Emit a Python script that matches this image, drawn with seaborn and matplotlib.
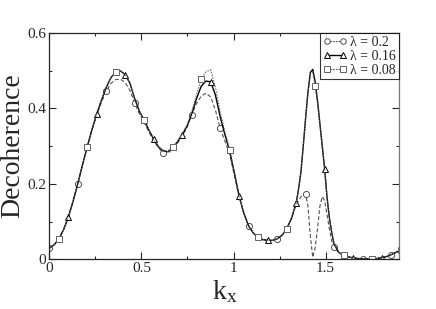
import numpy as np
import matplotlib
matplotlib.use("Agg")
import matplotlib.pyplot as plt
from matplotlib.lines import Line2D
import seaborn as sns

# estilo general
sns.set_style("ticks")
plt.rcParams["font.family"] = ["Liberation Serif", "DejaVu Serif"]
plt.rcParams["mathtext.fontset"] = "custom"
plt.rcParams["mathtext.rm"] = "Liberation Serif"

# separacion de la malla en k_x (los marcadores caen cada 6 puntos)
STEP = 0.025764

kx = [0.0, 0.0258, 0.0515, 0.0773, 0.1031, 0.1288, 0.1546, 0.1803, 0.2061, 0.2319,
      0.2576, 0.2834, 0.3092, 0.3349, 0.3607, 0.3865, 0.4122, 0.4380, 0.4638, 0.4895,
      0.5153, 0.5410, 0.5668, 0.5926, 0.6183, 0.6441, 0.6699, 0.6956, 0.7214, 0.7472,
      0.7729, 0.7987, 0.8244, 0.8502, 0.8760, 0.9017, 0.9275, 0.9533, 0.9790, 1.0048,
      1.0306, 1.0563, 1.0821, 1.1079, 1.1336, 1.1594, 1.1851, 1.2109, 1.2367, 1.2624,
      1.2882, 1.3140, 1.3397, 1.3526, 1.3655, 1.3784, 1.3913, 1.4042, 1.4170, 1.4299,
      1.4428, 1.4557, 1.4685, 1.4814, 1.4943, 1.5072, 1.5201, 1.5330, 1.5458, 1.5716,
      1.5974, 1.6231, 1.6489, 1.6747, 1.7004, 1.7262, 1.7520, 1.7777, 1.8035, 1.8292,
      1.8550, 1.8808, 1.9065]

deco_020 = [0.029, 0.038, 0.053, 0.078, 0.111, 0.153, 0.200, 0.250, 0.298, 0.343,
            0.382, 0.416, 0.445, 0.466, 0.476, 0.477, 0.468, 0.447, 0.413, 0.385,
            0.362, 0.337, 0.314, 0.295, 0.282, 0.281, 0.292, 0.307, 0.326, 0.350,
            0.383, 0.412, 0.432, 0.440, 0.430, 0.395, 0.347, 0.313, 0.278, 0.222,
            0.165, 0.121, 0.088, 0.069, 0.058, 0.052, 0.050, 0.050, 0.054, 0.063,
            0.080, 0.108, 0.145, 0.155, 0.165, 0.172, 0.173, 0.140, 0.060, 0.005,
            0.030, 0.080, 0.140, 0.166, 0.155, 0.120, 0.080, 0.048, 0.032, 0.017,
            0.010, 0.006, 0.004, 0.002, 0.001, 0.001, 0.001, 0.002, 0.004, 0.007,
            0.012, 0.018, 0.024]

deco_016 = [0.029, 0.038, 0.053, 0.078, 0.111, 0.153, 0.200, 0.250, 0.298, 0.344,
            0.385, 0.422, 0.455, 0.481, 0.496, 0.499, 0.489, 0.466, 0.425, 0.392,
            0.368, 0.342, 0.318, 0.298, 0.287, 0.285, 0.296, 0.311, 0.330, 0.352,
            0.385, 0.425, 0.458, 0.472, 0.470, 0.435, 0.378, 0.330, 0.287, 0.228,
            0.167, 0.121, 0.088, 0.069, 0.058, 0.052, 0.050, 0.050, 0.054, 0.063,
            0.080, 0.108, 0.148, 0.185, 0.230, 0.300, 0.375, 0.445, 0.495, 0.503,
            0.470, 0.420, 0.360, 0.300, 0.240, 0.165, 0.110, 0.070, 0.040, 0.018,
            0.010, 0.006, 0.004, 0.002, 0.001, 0.001, 0.001, 0.002, 0.004, 0.007,
            0.012, 0.018, 0.024]

deco_008 = [0.029, 0.038, 0.053, 0.078, 0.111, 0.153, 0.200, 0.250, 0.298, 0.344,
            0.385, 0.422, 0.455, 0.482, 0.497, 0.499, 0.489, 0.466, 0.425, 0.392,
            0.368, 0.342, 0.318, 0.298, 0.287, 0.285, 0.297, 0.312, 0.332, 0.355,
            0.390, 0.435, 0.477, 0.497, 0.502, 0.455, 0.390, 0.338, 0.290, 0.229,
            0.167, 0.121, 0.088, 0.069, 0.058, 0.052, 0.050, 0.050, 0.054, 0.063,
            0.081, 0.108, 0.148, 0.185, 0.230, 0.300, 0.375, 0.442, 0.490, 0.495,
            0.460, 0.415, 0.358, 0.300, 0.240, 0.165, 0.110, 0.070, 0.040, 0.018,
            0.010, 0.006, 0.004, 0.002, 0.001, 0.001, 0.001, 0.002, 0.004, 0.007,
            0.012, 0.018, 0.024]

series_labels = ["λ = 0.2", "λ = 0.16", "λ = 0.08"]
x_ticks = [0, 0.5, 1, 1.5]
x_ticklabels = ["0", "0.5", "1", "1.5"]
y_ticks = [0, 0.2, 0.4, 0.6]
y_ticklabels = ["0", "0.2", "0.4", "0.6"]

x = np.array(kx)
k = x / STEP
on_grid = np.abs(k - np.round(k)) < 0.1
idx = np.round(k).astype(int)

estilos = [
    dict(y=deco_020, color="#505050", ls=(0, (3.5, 2)), marker="o", offset=0, lw=0.8),
    dict(y=deco_016, color="black", ls="-", marker="^", offset=4, lw=1.0),
    dict(y=deco_008, color="#606060", ls=(0, (1.3, 1.3)), marker="s", offset=2, lw=0.8),
]

fig = plt.figure(figsize=(4.36, 3.09), dpi=100)
ax = fig.add_axes([0.113, 0.161, 0.803, 0.733])

handles = []
for est, lab in zip(estilos, series_labels):
    mask = on_grid & (idx % 6 == est["offset"])
    sns.lineplot(x=x, y=np.array(est["y"]), ax=ax, estimator=None, sort=False,
                 color=est["color"], linestyle=est["ls"], linewidth=est["lw"],
                 marker=est["marker"], markevery=list(mask), markersize=4.4,
                 markerfacecolor="white", markeredgecolor=est["color"],
                 markeredgewidth=0.7)
    # la leyenda lleva la linea con trazos mas cortos para que se vea entre marcadores
    ls_leg = est["ls"] if est["ls"] == "-" else (0, (1.5, 1))
    handles.append(Line2D([], [], color=est["color"], linestyle=ls_leg,
                          linewidth=est["lw"], marker=est["marker"], markersize=4.0,
                          markerfacecolor="white", markeredgecolor=est["color"],
                          markeredgewidth=0.7, label=lab))

ax.set_xlim(0, 1.9)
ax.set_ylim(0, 0.6)
ax.set_xticks(x_ticks)
ax.set_xticklabels(x_ticklabels)
ax.set_yticks(y_ticks)
ax.set_yticklabels(y_ticklabels)
ax.set_xticks(np.arange(0, 1.9, 0.25), minor=True)
ax.set_yticks(np.arange(0, 0.6, 0.1), minor=True)
ax.tick_params(which="both", direction="in", top=True, right=True, width=0.8,
               labelsize=11, pad=2)
ax.tick_params(which="major", length=5)
ax.tick_params(which="minor", length=2.5)
for s in ax.spines.values():
    s.set_linewidth(0.9)
ax.spines["right"].set_color("#777777")

ax.set_xlabel(r"$\mathregular{k_x}$", fontsize=20, labelpad=2)
ax.set_ylabel("Decoherence", fontsize=20, labelpad=2)

leg = ax.legend(handles=handles, loc="upper right", numpoints=2, fontsize=10,
                frameon=True, fancybox=False, borderpad=0.2, borderaxespad=0.05,
                handlelength=1.7, handletextpad=0.25, labelspacing=0.05)
leg.get_frame().set_edgecolor("black")
leg.get_frame().set_linewidth(0.8)

fig.savefig("out.png", dpi=100)
